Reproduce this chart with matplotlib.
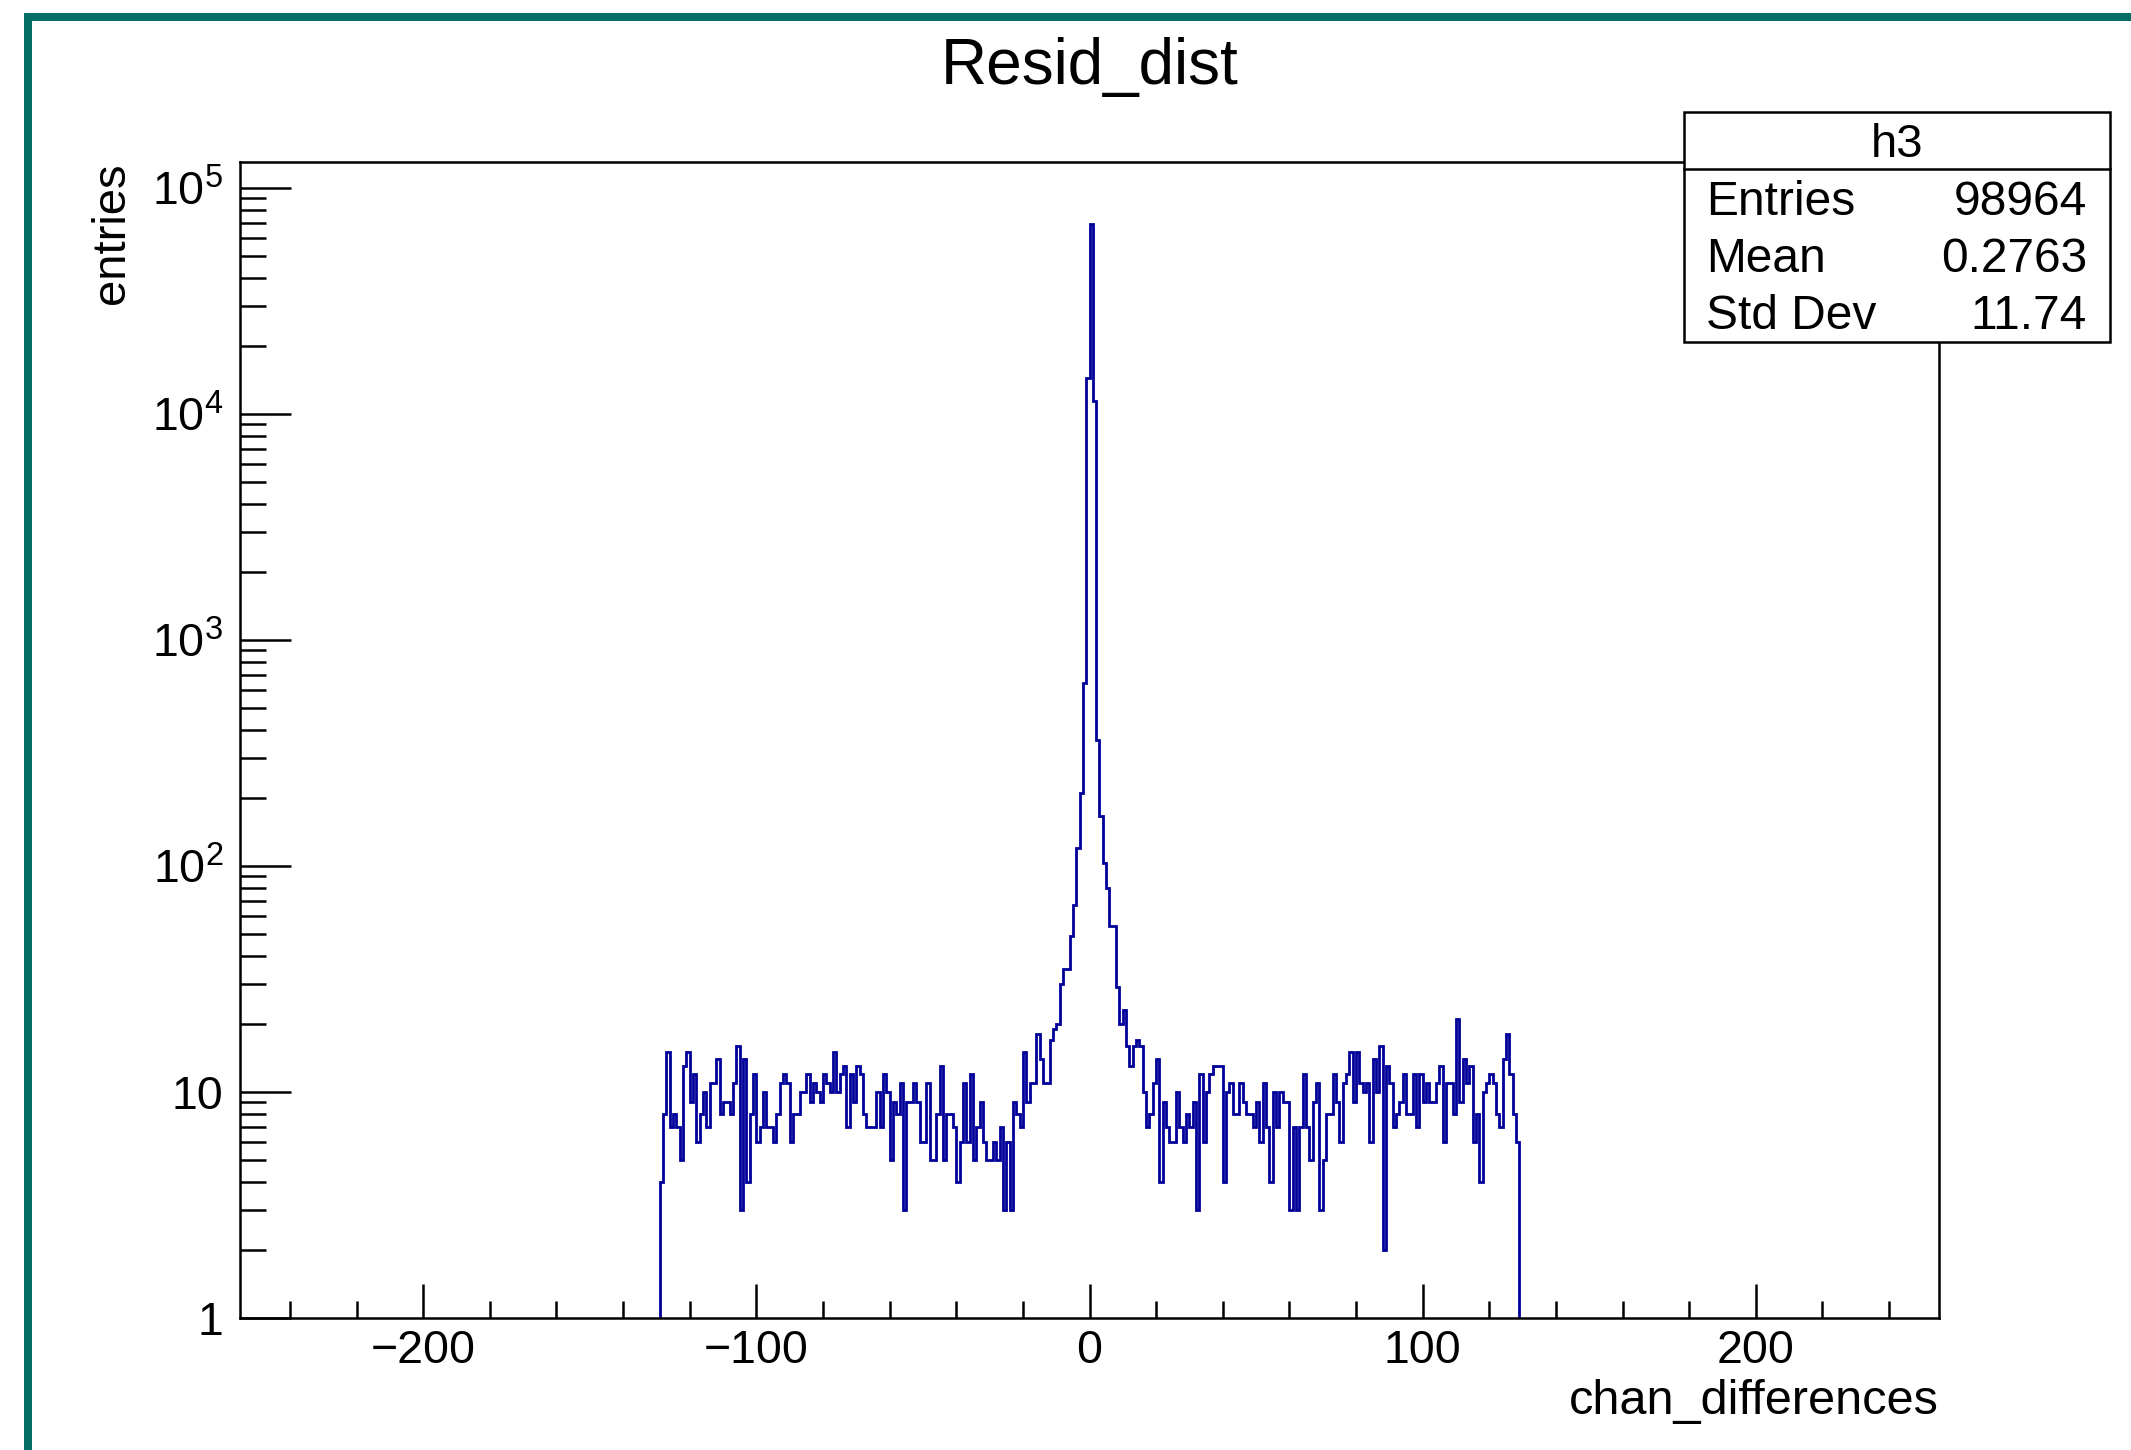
# ROOT style histogram of channel differences, redone in matplotlib

import numpy as np
import matplotlib.pyplot as plt
from matplotlib.patches import Rectangle
from matplotlib.lines import Line2D
from matplotlib.ticker import MultipleLocator, FixedLocator, NullFormatter

plt.rcParams['font.family'] = ['Liberation Sans', 'DejaVu Sans']
plt.rcParams['mathtext.fontset'] = 'custom'
plt.rcParams['mathtext.rm'] = 'Liberation Sans'
plt.rcParams['mathtext.it'] = 'Liberation Sans'

# bins of width 1, first bin starts at -129
first_edge = -129
# counts, bins -129 .. -64
counts_left_a = [4, 8, 15, 7, 8, 7, 5, 13, 15, 9, 12, 6, 8, 10, 7, 11, 11, 14, 8, 9,
                 9, 8, 11, 16, 3, 14, 4, 8, 12, 6, 7, 10, 7, 7, 6, 8, 11, 12, 11, 6,
                 8, 8, 10, 10, 12, 9, 11, 10, 9, 12, 11, 10, 15, 10, 12, 13, 7, 12, 9, 13,
                 12, 8, 7, 7, 7, 10]
# bins -63 .. -10
counts_left_b = [7, 12, 10, 5, 9, 8, 11, 3, 9, 9, 11, 9, 6, 6, 11, 5, 5, 8, 13, 5,
                 8, 8, 7, 4, 6, 11, 6, 12, 5, 7, 9, 6, 5, 5, 6, 5, 7, 3, 6, 3,
                 9, 8, 7, 15, 9, 11, 11, 18, 14, 11, 11, 17, 19, 20]
# bins -9 .. 10 (the peak)
counts_core = [30, 35, 35, 49, 67, 120, 211, 643, 14400, 69300, 11400,
               360, 166, 103, 80, 54, 54, 29, 20, 23]
# bins 11 .. 65
counts_right_a = [16, 13, 16, 17, 16, 10, 7, 8, 11, 14, 4, 9, 7, 6, 6, 10, 7, 6, 8, 7,
                  9, 3, 12, 6, 10, 12, 13, 13, 13, 4, 10, 11, 8, 8, 11, 9, 8, 8, 7, 9,
                  6, 11, 7, 4, 10, 7, 10, 9, 9, 3, 7, 3, 7, 12, 7]
# bins 66 .. 128
counts_right_b = [5, 9, 11, 3, 5, 8, 8, 12, 9, 6, 11, 12, 15, 9, 15, 11, 10, 11, 6, 14,
                  10, 16, 2, 13, 11, 7, 8, 9, 12, 8, 8, 12, 7, 12, 9, 11, 9, 9, 11, 13,
                  6, 11, 11, 8, 21, 9, 14, 11, 13, 6, 8, 4, 10, 11, 12, 11, 8, 7, 14, 18,
                  12, 8, 6]

stat_names = ['Entries', 'Mean', 'Std Dev']
stat_values = ['98964', '0.2763', '11.74']
ytick_values = [1, 10, 100, 1000, 10000, 100000]
ytick_labels = ['1', '10', r'$10^{2}$', r'$10^{3}$', r'$10^{4}$', r'$10^{5}$']

counts = np.array(counts_left_a + counts_left_b + counts_core + counts_right_a + counts_right_b)
edges = np.arange(first_edge, first_edge + len(counts) + 1)

W, H = 2131, 1450
fig = plt.figure(figsize=(W / 100, H / 100), dpi=100)

# axes frame in pixels: x 240..1939, y 162..1318
ax = fig.add_axes([240 / W, 1 - 1318 / H, (1939 - 240) / W, (1318 - 162) / H])

hist_col = '#000099'
ax.stairs(counts, edges, baseline=1, color=hist_col, linewidth=2.0)

ax.set_yscale('log')
ax.set_xlim(-255, 255)
ax.set_ylim(1, 1.3e5)

ax.xaxis.set_major_locator(MultipleLocator(100))
ax.xaxis.set_minor_locator(MultipleLocator(20))
ax.yaxis.set_major_locator(FixedLocator(ytick_values))
ax.set_yticklabels(ytick_labels)
ax.yaxis.set_minor_locator(FixedLocator([m * 10 ** e for e in range(0, 5) for m in range(2, 10)]))
ax.yaxis.set_minor_formatter(NullFormatter())

lw = 1.8
ax.tick_params(axis='x', which='major', direction='in', length=24.5, width=lw,
               labelsize=33.5, pad=8, top=False)
ax.tick_params(axis='x', which='minor', direction='in', length=12.2, width=lw, top=False)
ax.tick_params(axis='y', which='major', direction='in', length=36.5, width=lw,
               labelsize=33.5, pad=12, right=False)
ax.tick_params(axis='y', which='minor', direction='in', length=18.5, width=lw, right=False)
for s in ax.spines.values():
    s.set_linewidth(lw)

ax.set_xlabel('chan_differences', fontsize=35, loc='right')
ax.xaxis.set_label_coords(1.0, -0.0532)
ax.set_ylabel('entries', fontsize=34, loc='top')
ax.yaxis.set_label_coords(-0.0624, 1.0)

ax.set_title('Resid_dist', fontsize=46, pad=0, y=1.0678)

# teal canvas border on left and top
teal = '#026e66'
fig.add_artist(Rectangle((24 / W, 0), 8 / W, 1 - 13 / H, transform=fig.transFigure,
                         facecolor=teal, edgecolor='none'))
fig.add_artist(Rectangle((24 / W, 1 - 21 / H), 1 - 24 / W, 8 / H, transform=fig.transFigure,
                         facecolor=teal, edgecolor='none'))

# stats box
bx0, bx1, by0, by1 = 1684, 2110, 112, 342
fig.add_artist(Rectangle((bx0 / W, 1 - by1 / H), (bx1 - bx0) / W, (by1 - by0) / H,
                         transform=fig.transFigure, facecolor='white', edgecolor='black',
                         linewidth=lw, zorder=5))
fig.add_artist(Line2D([bx0 / W, bx1 / W], [1 - 169 / H, 1 - 169 / H],
                      transform=fig.transFigure, color='black', linewidth=lw, zorder=6))
fig.text((bx0 + bx1) / 2 / W, 1 - 157 / H, 'h3', fontsize=34, ha='center', va='baseline', zorder=7)
row_base = [215, 272, 329]
for name, val, yb in zip(stat_names, stat_values, row_base):
    fig.text(1706 / W, 1 - yb / H, name, fontsize=34.5, ha='left', va='baseline', zorder=7)
    fig.text(2087 / W, 1 - yb / H, val, fontsize=34.5, ha='right', va='baseline', zorder=7)

fig.savefig('out.png', dpi=100)
